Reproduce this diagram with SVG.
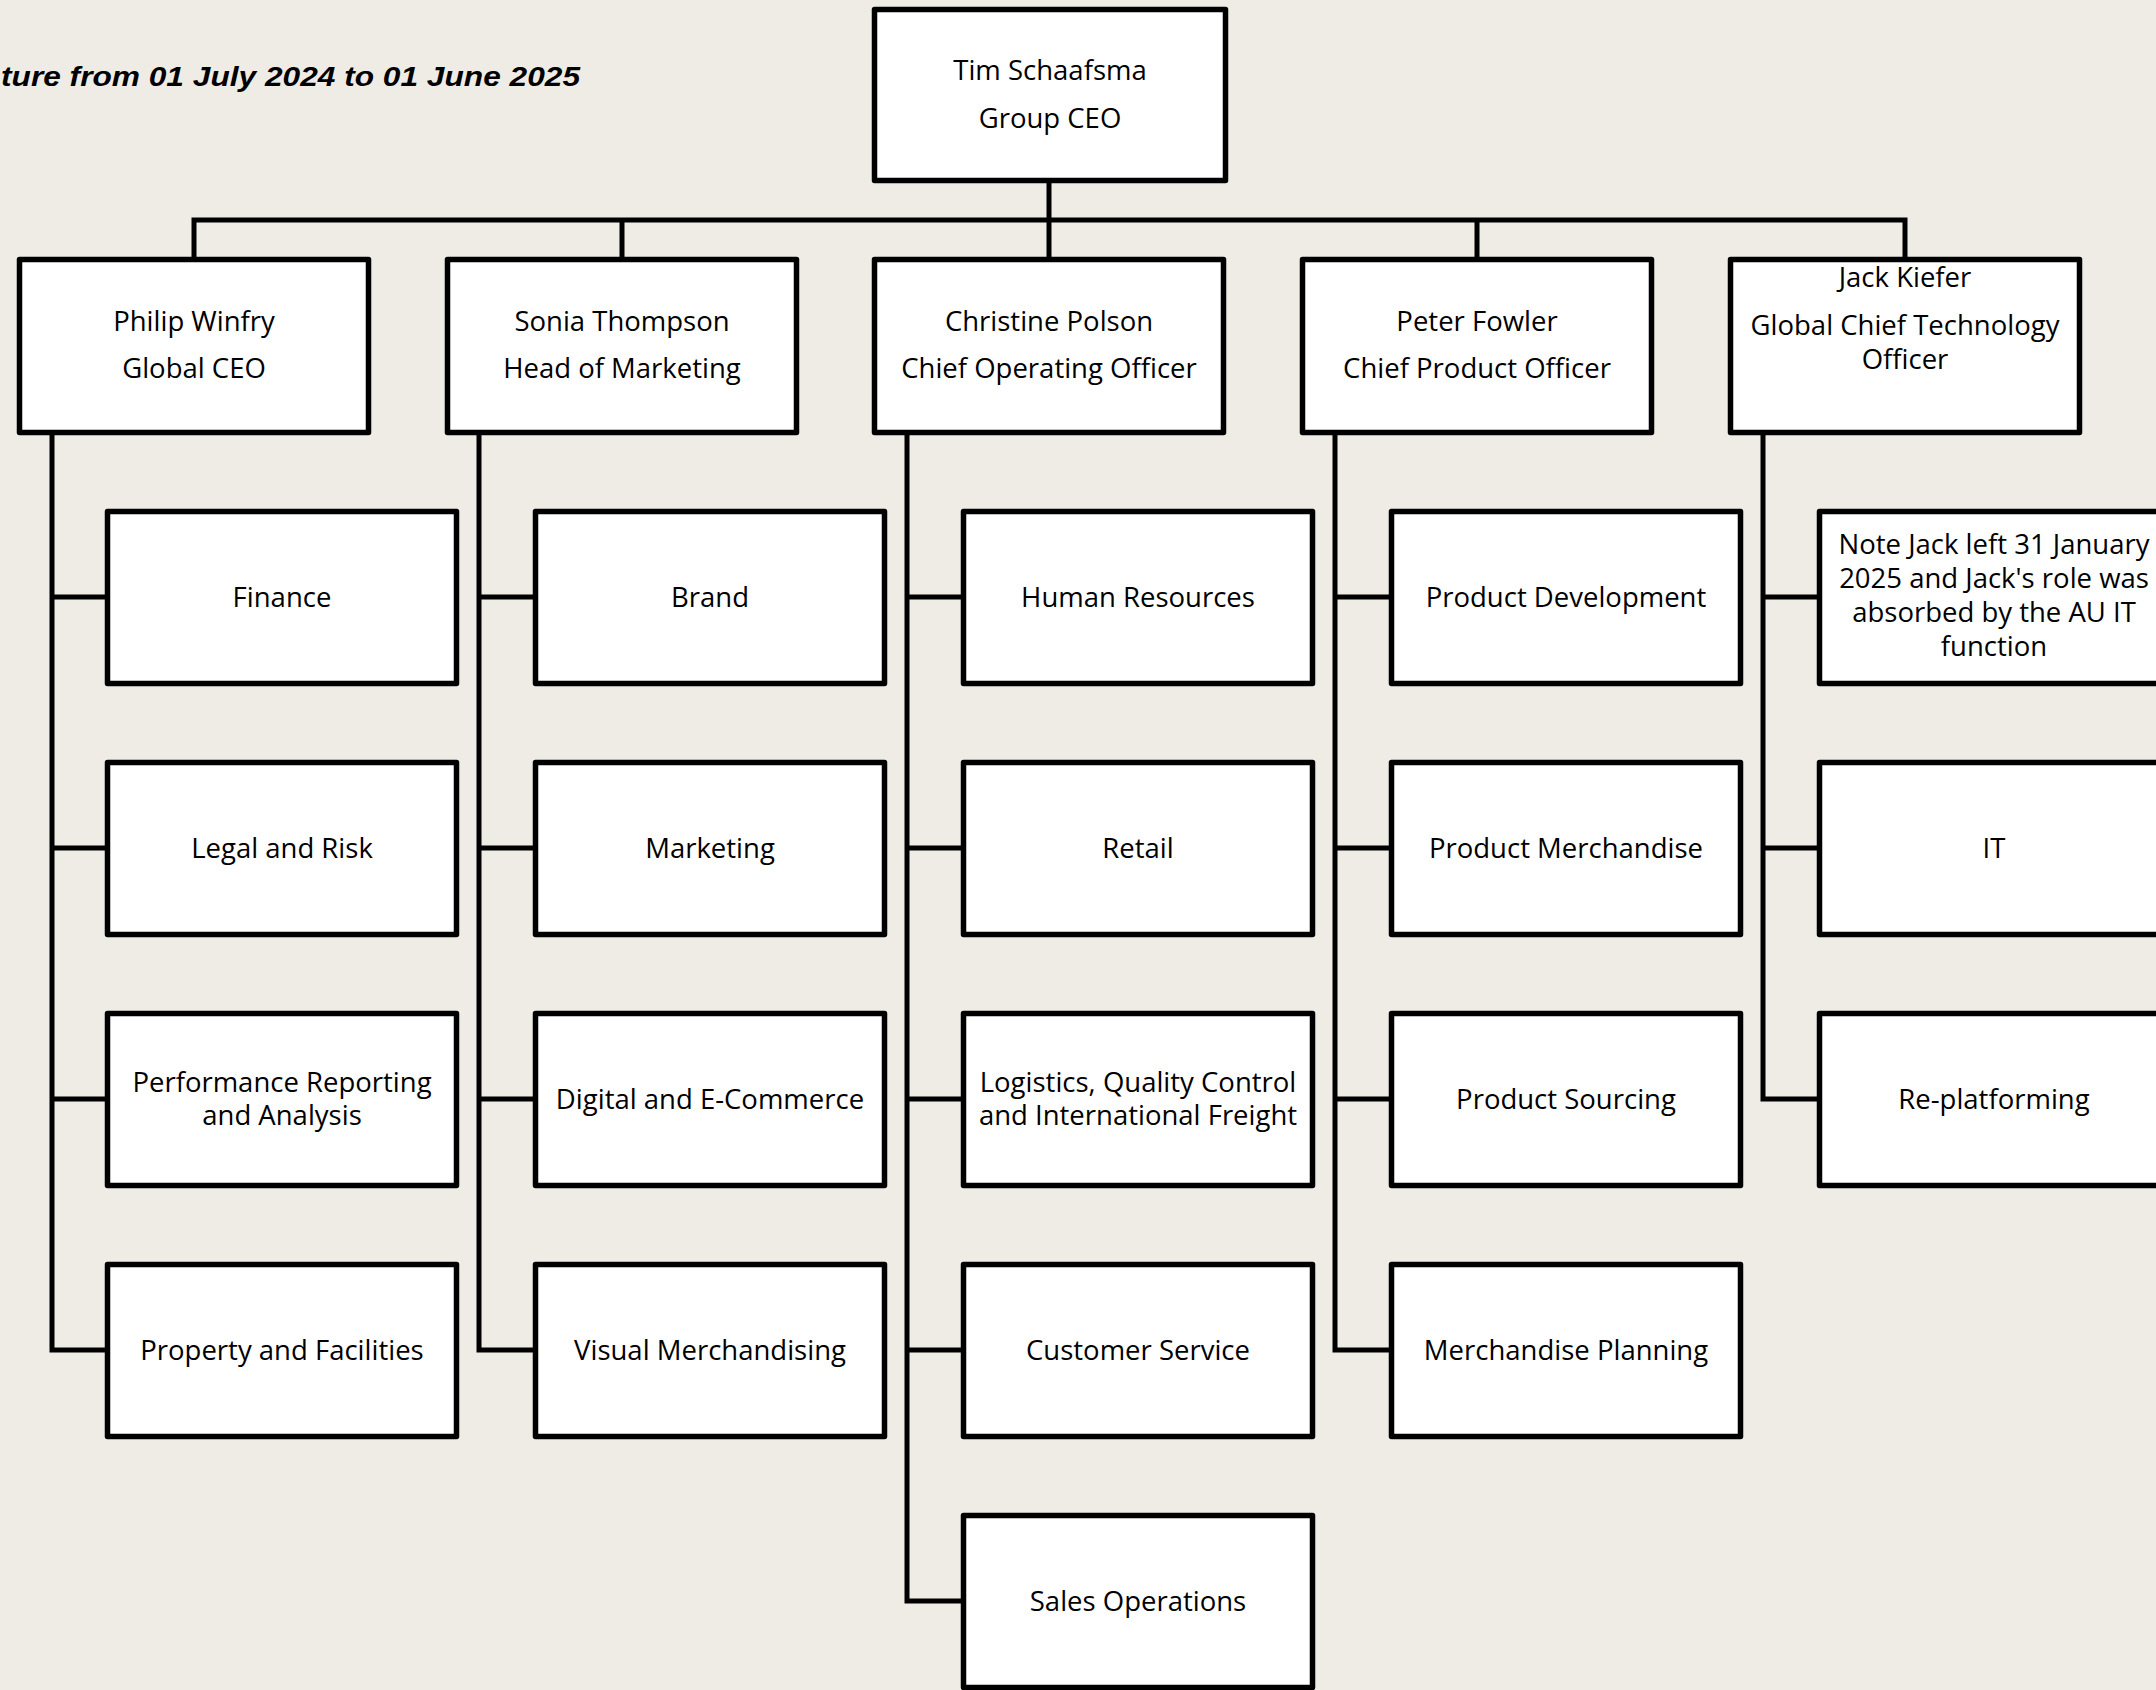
<svg xmlns="http://www.w3.org/2000/svg" width="2156" height="1690" viewBox="0 0 2156 1690">
<style>
.bg{fill:#EFECE5}
.box{fill:#FFFFFF;stroke:#000;stroke-width:5.5;stroke-linejoin:round}
.ln{fill:none;stroke:#000;stroke-width:5;stroke-linejoin:miter;stroke-linecap:square}
.t{font-family:"Open Sans","Noto Sans",sans-serif;font-size:27.5px;fill:#000;text-anchor:middle}
.title{font-family:"Liberation Sans",Arial,sans-serif;font-size:27px;font-weight:bold;font-style:italic;fill:#000}
</style>
<rect class="bg" x="0" y="0" width="2156" height="1690"/>
<text class="title" x="1" y="86" textLength="579" lengthAdjust="spacingAndGlyphs">ture from 01 July 2024 to 01 June 2025</text>

<g id="connectors">
<path class="ln" d="M1049,183 V257 M194,220 H1905 M194,220 V257 M622,220 V257 M1477,220 V257 M1905,220 V257"/>
<path class="ln" d="M52,435 V1350 M52,597 H105 M52,848 H105 M52,1099 H105 M52,1350 H105"/>
<path class="ln" d="M479,435 V1350 M479,597 H533 M479,848 H533 M479,1099 H533 M479,1350 H533"/>
<path class="ln" d="M907,435 V1601 M907,597 H961 M907,848 H961 M907,1099 H961 M907,1350 H961 M907,1601 H961"/>
<path class="ln" d="M1335,435 V1350 M1335,597 H1389 M1335,848 H1389 M1335,1099 H1389 M1335,1350 H1389"/>
<path class="ln" d="M1763,435 V1099 M1763,597 H1817 M1763,848 H1817 M1763,1099 H1817"/>
</g>

<g id="ceo"><rect class="box" x="874.5" y="9.5" width="351" height="171"/><text class="t" x="1050" y="80">Tim Schaafsma</text><text class="t" x="1050" y="128">Group CEO</text></g>

<g id="philip"><rect class="box" x="19.5" y="259.5" width="349" height="173"/><text class="t" x="194" y="331">Philip Winfry</text><text class="t" x="194" y="378">Global CEO</text></g>
<g id="sonia"><rect class="box" x="447.5" y="259.5" width="349" height="173"/><text class="t" x="622" y="331">Sonia Thompson</text><text class="t" x="622" y="378">Head of Marketing</text></g>
<g id="christine"><rect class="box" x="874.5" y="259.5" width="349" height="173"/><text class="t" x="1049" y="331">Christine Polson</text><text class="t" x="1049" y="378">Chief Operating Officer</text></g>
<g id="peter"><rect class="box" x="1302.5" y="259.5" width="349" height="173"/><text class="t" x="1477" y="331">Peter Fowler</text><text class="t" x="1477" y="378">Chief Product Officer</text></g>
<g id="jack"><rect class="box" x="1730.5" y="259.5" width="349" height="173"/><text class="t" x="1905" y="287">Jack Kiefer</text><text class="t" x="1905" y="335">Global Chief Technology</text><text class="t" x="1905" y="369">Officer</text></g>

<g id="finance"><rect class="box" x="107.5" y="511.5" width="349" height="172"/><text class="t" x="282" y="607">Finance</text></g>
<g id="legal"><rect class="box" x="107.5" y="762.5" width="349" height="172"/><text class="t" x="282" y="858">Legal and Risk</text></g>
<g id="performance"><rect class="box" x="107.5" y="1013.5" width="349" height="172"/><text class="t" x="282" y="1092">Performance Reporting</text><text class="t" x="282" y="1125">and Analysis</text></g>
<g id="property"><rect class="box" x="107.5" y="1264.5" width="349" height="172"/><text class="t" x="282" y="1360">Property and Facilities</text></g>

<g id="brand"><rect class="box" x="535.5" y="511.5" width="349" height="172"/><text class="t" x="710" y="607">Brand</text></g>
<g id="marketing"><rect class="box" x="535.5" y="762.5" width="349" height="172"/><text class="t" x="710" y="858">Marketing</text></g>
<g id="digital"><rect class="box" x="535.5" y="1013.5" width="349" height="172"/><text class="t" x="710" y="1109">Digital and E-Commerce</text></g>
<g id="visual"><rect class="box" x="535.5" y="1264.5" width="349" height="172"/><text class="t" x="710" y="1360">Visual Merchandising</text></g>

<g id="hr"><rect class="box" x="963.5" y="511.5" width="349" height="172"/><text class="t" x="1138" y="607">Human Resources</text></g>
<g id="retail"><rect class="box" x="963.5" y="762.5" width="349" height="172"/><text class="t" x="1138" y="858">Retail</text></g>
<g id="logistics"><rect class="box" x="963.5" y="1013.5" width="349" height="172"/><text class="t" x="1138" y="1092">Logistics, Quality Control</text><text class="t" x="1138" y="1125">and International Freight</text></g>
<g id="customer"><rect class="box" x="963.5" y="1264.5" width="349" height="172"/><text class="t" x="1138" y="1360">Customer Service</text></g>
<g id="sales"><rect class="box" x="963.5" y="1515.5" width="349" height="172"/><text class="t" x="1138" y="1611">Sales Operations</text></g>

<g id="proddev"><rect class="box" x="1391.5" y="511.5" width="349" height="172"/><text class="t" x="1566" y="607">Product Development</text></g>
<g id="prodmerch"><rect class="box" x="1391.5" y="762.5" width="349" height="172"/><text class="t" x="1566" y="858">Product Merchandise</text></g>
<g id="prodsource"><rect class="box" x="1391.5" y="1013.5" width="349" height="172"/><text class="t" x="1566" y="1109">Product Sourcing</text></g>
<g id="merchplan"><rect class="box" x="1391.5" y="1264.5" width="349" height="172"/><text class="t" x="1566" y="1360">Merchandise Planning</text></g>

<g id="note"><rect class="box" x="1819.5" y="511.5" width="349" height="172"/><text class="t" x="1994" y="554">Note Jack left 31 January</text><text class="t" x="1994" y="588">2025 and Jack's role was</text><text class="t" x="1994" y="622">absorbed by the AU IT</text><text class="t" x="1994" y="656">function</text></g>
<g id="it"><rect class="box" x="1819.5" y="762.5" width="349" height="172"/><text class="t" x="1994" y="858">IT</text></g>
<g id="replat"><rect class="box" x="1819.5" y="1013.5" width="349" height="172"/><text class="t" x="1994" y="1109">Re-platforming</text></g>
</svg>
